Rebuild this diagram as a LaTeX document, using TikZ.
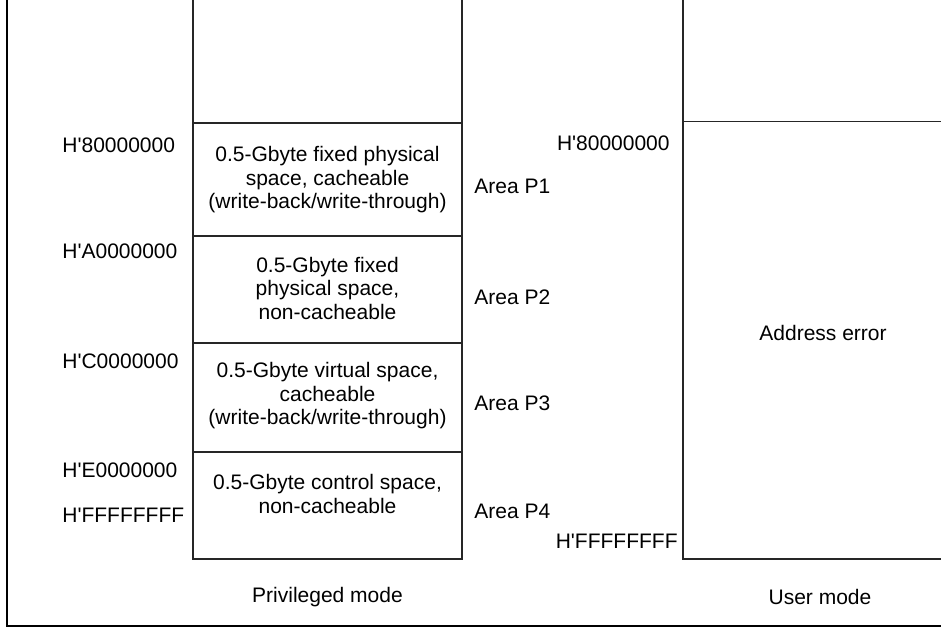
\documentclass[tikz,border=0pt]{standalone}
\usepackage{fontspec}
\setmainfont[Ligatures=TeXOff]{Liberation Sans}
\begin{document}
\begin{tikzpicture}[x=0.5pt,y=-0.5pt,
  boxline/.style={line width=0.7pt,draw=black!85},
  frameline/.style={line width=1pt,draw=black},
  lbl/.style={inner sep=0pt,font=\fontsize{10.5pt}{11.75pt}\selectfont},
  boxtxt/.style={lbl,align=center}]
\useasboundingbox (0,0) rectangle (941,627);
% frame
\draw[frameline] (6.5,0) -- (6.5,625.5) -- (941,625.5);
% privileged mode column
\draw[boxline] (193,0) -- (193,559) -- (462,559) -- (462,0);
\foreach \yy in {123,236,343,452} \draw[boxline] (193,\yy) -- (462,\yy);
% user mode column
\draw[boxline] (683,0) -- (683,559) -- (941,559);
\draw[boxline] (683,121.5) -- (941,121.5);
% left addresses
\node[lbl,anchor=west] (a80) at (62,145) {H'80000000};
\node[lbl,anchor=west] (aA0) at (62,251) {H'A0000000};
\node[lbl,anchor=west] (aC0) at (62,361) {H'C0000000};
\node[lbl,anchor=west] (aE0) at (62,470) {H'E0000000};
\node[lbl,anchor=west] (aFF) at (62,515) {H'FFFFFFFF};
% box texts
\node[boxtxt] (p1t) at (327.5,180) {0.5-Gbyte fixed physical\\space, cacheable\\(write-back/write-through)};
\node[boxtxt] (p2t) at (327.5,288) {0.5-Gbyte fixed\\physical space,\\non-cacheable};
\node[boxtxt] (p3t) at (327.5,396) {0.5-Gbyte virtual space,\\cacheable\\(write-back/write-through)};
\node[boxtxt] (p4t) at (327.5,494) {0.5-Gbyte control space,\\non-cacheable};
% area labels
\node[lbl,anchor=west] (ar1) at (474,186) {Area P1};
\node[lbl,anchor=west] (ar2) at (474,297) {Area P2};
\node[lbl,anchor=west] (ar3) at (474,403) {Area P3};
\node[lbl,anchor=west] (ar4) at (474,511) {Area P4};
% right addresses
\node[lbl,anchor=east] (u80) at (670,143) {H'80000000};
\node[lbl,anchor=east] (uFF) at (678,541) {H'FFFFFFFF};
\node[lbl] (err) at (823,333) {Address error};
% mode labels
\node[lbl] (priv) at (327.5,597) {Privileged mode};
\node[lbl] (user) at (820,597) {User mode};
\end{tikzpicture}
\end{document}
